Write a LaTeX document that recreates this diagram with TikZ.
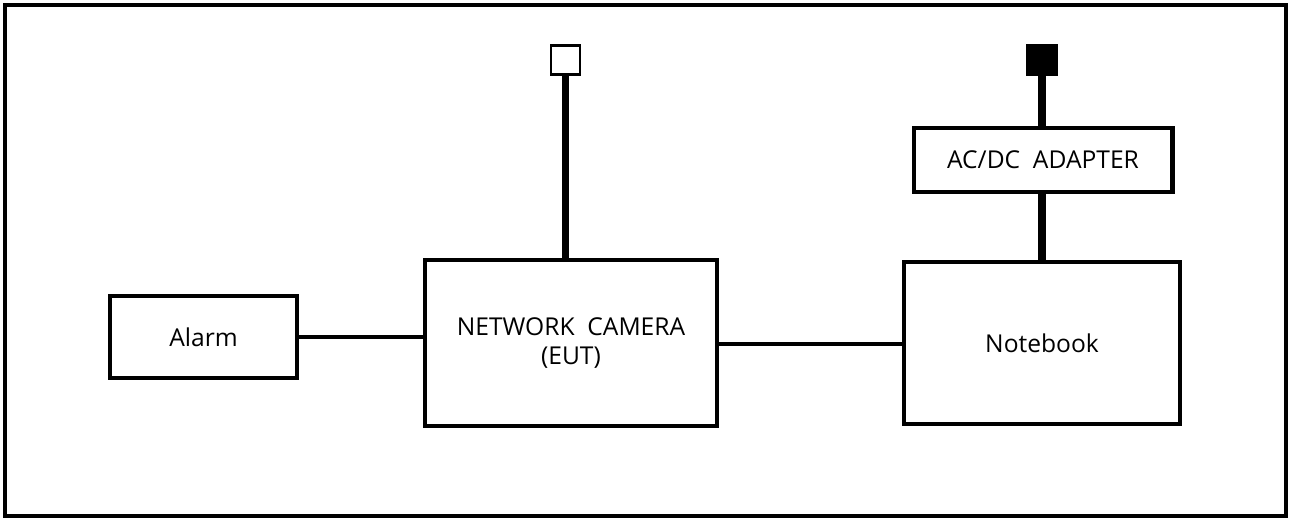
\documentclass[tikz,border=0pt]{standalone}
\usepackage{fontspec}
\setmainfont{Open Sans}
\usetikzlibrary{positioning}

\begin{document}
\begin{tikzpicture}[x=0.02cm,y=-0.02cm]
    \tikzset{unit/.style={draw,line width=2.3pt,fill=white,align=center,inner sep=0pt,font=\fontsize{14}{16.5}\selectfont},
      plug/.style={draw,line width=1.2pt,minimum size=0.58cm,inner sep=0pt},
      cable/.style={line width=2pt},
      thickcable/.style={line width=4pt}}
    \useasboundingbox (0,0) rectangle (1289,518);
    \draw[line width=2.4pt] (5,5) rectangle (1286,516);
    % equipment
    \node[unit,minimum width=3.74cm,minimum height=1.64cm] (alarm) at (203.5,337) {Alarm};
    \node[unit,minimum width=5.86cm,minimum height=3.32cm] (cam) at (571,343) {NETWORK\ \ CAMERA\\(EUT)};
    \node[unit,minimum width=5.52cm,minimum height=3.24cm] (nb) at (1042,343) {Notebook};
    \node[unit,minimum width=5.18cm,minimum height=1.28cm] (adp) at (1043,160) {AC/DC\ \ ADAPTER};
    \node[plug,fill=white] (lan) at (565.5,60) {};
    \node[plug,fill=black] (ac) at (1042,60) {};
    % cables
    \draw[cable] (alarm.east) -- (cam.west |- alarm.east);
    \draw[cable] (cam.east |- 0,344) -- (nb.west |- 0,344);
    \draw[thickcable] (cam.north -| lan.south) -- (lan.south);
    \draw[thickcable] (adp.north -| ac.south) -- (ac.south);
    \draw[thickcable] (nb.north -| ac.south) -- (adp.south -| ac.south);
\end{tikzpicture}
\end{document}
